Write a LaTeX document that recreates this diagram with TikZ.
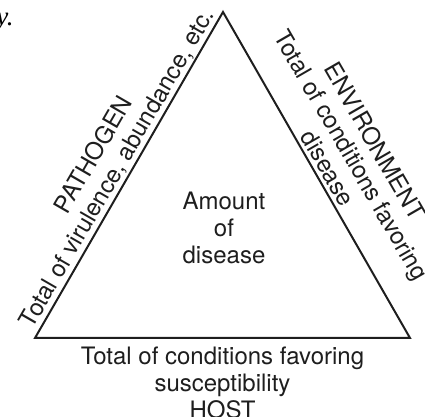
\documentclass[tikz,border=0pt]{standalone}
\usepackage{fontspec}
\usepackage{tikz}
\usetikzlibrary{positioning,calc}
\setmainfont{TeX Gyre Heros}
\newfontfamily\pagefont{Liberation Serif}
\definecolor{inkGray}{RGB}{30,30,30}

\begin{document}
\begin{tikzpicture}[x=0.5pt,y=-0.5pt,
    sidetext/.style={font=\fontsize{12}{13.5}\selectfont, align=center, text=inkGray}]
  \useasboundingbox (0,0) rectangle (425,417);
  % corners of the triangle
  \coordinate (apex) at (223,12);
  \coordinate (hostL) at (35,338);
  \coordinate (hostR) at (410,338);
  \draw[line width=1pt, inkGray, line join=miter] (hostL) -- (apex) -- (hostR) -- cycle;

  % centre
  \node[sidetext] (disease) at (224,228) {Amount\\of\\disease};

  % the three sides
  \node[sidetext, rotate=60, anchor=south, inner sep=1pt] (pathogen) at ($(hostL)!0.5!(apex)$) {PATHOGEN\\Total of virulence, abundance, etc.};
  \node[sidetext, rotate=-60, anchor=south, inner sep=2pt] (environment) at ($(apex)!0.5!(hostR)$) {ENVIRONMENT\\Total of conditions favoring\\disease};
  \node[sidetext, anchor=north, inner sep=4.5pt] (host) at ($(hostL)!0.5!(hostR)$) {Total of conditions favoring\\susceptibility\\HOST};

  \node[font=\pagefont\itshape\fontsize{13.5}{16}\selectfont, anchor=base east, inner sep=0pt] (pageword) at (14,26) {y.};
\end{tikzpicture}
\end{document}
